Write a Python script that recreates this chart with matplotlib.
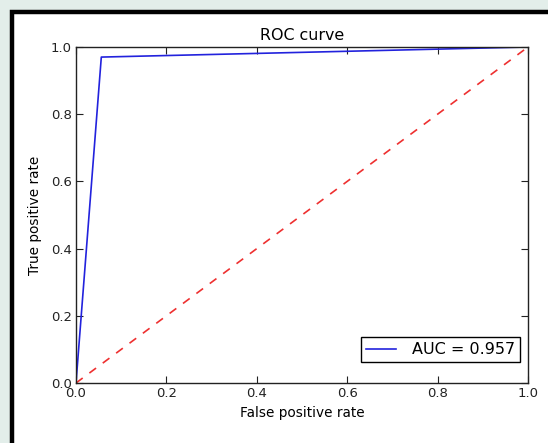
import matplotlib
matplotlib.use("Agg")
import matplotlib.pyplot as plt
from matplotlib.patches import Rectangle

fpr = [0.0, 0.056, 1.0]
tpr = [0.0, 0.970, 1.0]
diag_x = [0.0, 1.0]
diag_y = [0.0, 1.0]
auc_label = "AUC = 0.957"
ticks = [0.0, 0.2, 0.4, 0.6, 0.8, 1.0]
tick_labels = ["0.0", "0.2", "0.4", "0.6", "0.8", "1.0"]

W, H = 548, 443
fig = plt.figure(figsize=(W / 100, H / 100), dpi=100, facecolor="#e3eeea")

# white panel with thick black frame
fig.patches.append(Rectangle((12 / W, -0.1), 1.2, 1 - 12 / H + 0.1,
                             transform=fig.transFigure, facecolor="white",
                             edgecolor="black", linewidth=3.2, zorder=-10))

ax = fig.add_axes([76 / W, 1 - 383 / H, 452 / W, 336 / H])
ax.set_zorder(5)
ax.plot(fpr, tpr, color="#2222dd", linewidth=1.2, label=auc_label)
ax.plot(diag_x, diag_y, color="#ee3030", linestyle=(0, (5, 5)), linewidth=1.2)

ax.set_xlim(0, 1)
ax.set_ylim(0, 1)
ax.set_xticks(ticks)
ax.set_xticklabels(tick_labels)
ax.set_yticks(ticks)
ax.set_yticklabels(tick_labels)
ax.tick_params(direction="in", top=True, right=True, length=5, width=0.8,
               labelsize=9.5, colors="#222222", pad=3)
for s in ax.spines.values():
    s.set_linewidth(1.0)
    s.set_color("#222222")

ax.set_title("ROC curve", fontsize=11.4, pad=5)
ax.set_xlabel("False positive rate", fontsize=9.8, labelpad=4)
ax.set_ylabel("True positive rate", fontsize=9.8, labelpad=6)

leg = ax.legend(loc="lower right", bbox_to_anchor=(1 - 8 / 452, 21 / 336),
                borderaxespad=0, fontsize=11.5, fancybox=False, framealpha=1,
                edgecolor="black", borderpad=0.3, handlelength=1.9,
                handletextpad=1.0)
leg.get_frame().set_linewidth(1.0)

fig.savefig("out.png", dpi=100, facecolor=fig.get_facecolor())
